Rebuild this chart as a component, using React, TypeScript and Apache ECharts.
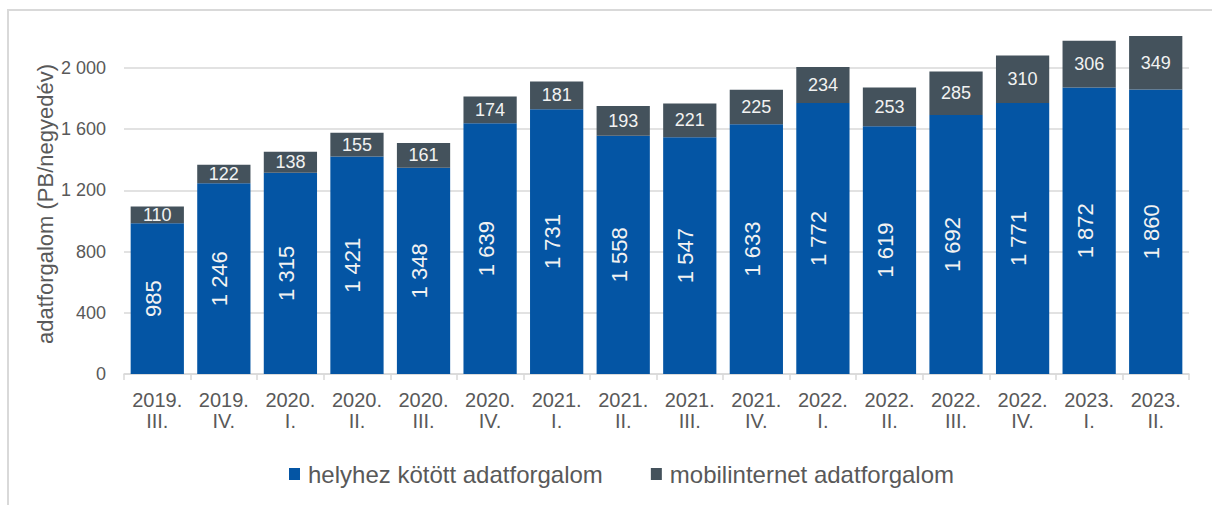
import React, { useEffect, useRef } from "react";
import * as echarts from "echarts";

const categories = [
  "2019.\nIII.", "2019.\nIV.", "2020.\nI.", "2020.\nII.", "2020.\nIII.", "2020.\nIV.",
  "2021.\nI.", "2021.\nII.", "2021.\nIII.", "2021.\nIV.", "2022.\nI.", "2022.\nII.",
  "2022.\nIII.", "2022.\nIV.", "2023.\nI.", "2023.\nII.",
];
const fixedTraffic = [985, 1246, 1315, 1421, 1348, 1639, 1731, 1558, 1547, 1633, 1772, 1619, 1692, 1771, 1872, 1860];
const mobileTraffic = [110, 122, 138, 155, 161, 174, 181, 193, 221, 225, 234, 253, 285, 310, 306, 349];
const seriesNames = ["helyhez kötött adatforgalom", "mobilinternet adatforgalom"];
const yAxisTitle = "adatforgalom (PB/negyedév)";

const fmt = (v: number) => {
  const s = String(Math.round(v));
  return s.replace(/\B(?=(\d{3})+(?!\d))/g, " ");
};

const FONT = "Arial, 'Liberation Sans', sans-serif";

export default function App() {
  const ref = useRef<HTMLDivElement>(null);
  useEffect(() => {
    if (!ref.current) return;
    const chart = echarts.init(ref.current, undefined, { renderer: "svg" });
    chart.setOption({
      animation: false,
      backgroundColor: "#ffffff",
      textStyle: { fontFamily: FONT },
      graphic: [
        {
          type: "rect",
          shape: { x: 8, y: 10, width: 1400, height: 700 },
          style: { fill: "none", stroke: "#d9d9d9", lineWidth: 2 },
          silent: true,
          z: -10,
        },
        {
          type: "text",
          x: 45,
          y: 204,
          rotation: Math.PI / 2,
          silent: true,
          style: {
            text: yAxisTitle,
            fill: "#595959",
            font: `22px ${FONT}`,
            align: "center",
            verticalAlign: "middle",
          },
        },
      ],
      legend: {
        data: seriesNames,
        top: 456,
        left: 284,
        itemWidth: 11,
        itemHeight: 12,
        itemGap: 48,
        icon: "rect",
        textStyle: { fontFamily: FONT, fontSize: 24, lineHeight: 26, color: "#595959", padding: [0, 0, 0, 3] },
      },
      grid: { left: 124, right: 23, top: 6.8, bottom: 131, containLabel: false },
      xAxis: {
        type: "category",
        data: categories,
        axisLine: { lineStyle: { color: "#d9d9d9", width: 1.5 } },
        axisTick: { show: true, length: 6, lineStyle: { color: "#d9d9d9", width: 1.5 } },
        axisLabel: { color: "#595959", fontSize: 20, fontFamily: FONT, lineHeight: 21, margin: 15, interval: 0 },
      },
      yAxis: {
        type: "value",
        min: 0,
        max: 2400,
        interval: 400,
        axisLine: { show: false },
        axisTick: { show: false },
        axisLabel: {
          color: "#595959",
          fontSize: 18,
          fontFamily: FONT,
          margin: 18,
          showMaxLabel: false,
          formatter: (v: number) => fmt(v),
        },
        splitLine: { show: true, showMaxLine: false, lineStyle: { color: "#d9d9d9", width: 1.5 } },
      },
      series: [
        {
          name: seriesNames[0],
          type: "bar",
          stack: "total",
          data: fixedTraffic,
          barCategoryGap: "20%",
          itemStyle: { color: "#0455a4" },
          label: {
            show: true,
            position: "inside",
            rotate: 90,
            offset: [0, -4],
            color: "#f2f2f2",
            fontSize: 22,
            fontFamily: FONT,
            formatter: (p: any) => fmt(p.value),
          },
        },
        {
          name: seriesNames[1],
          type: "bar",
          stack: "total",
          data: mobileTraffic,
          barCategoryGap: "20%",
          itemStyle: { color: "#44525c" },
          label: {
            show: true,
            position: "inside",
            color: "#f2f2f2",
            fontSize: 18,
            fontFamily: FONT,
            formatter: (p: any) => fmt(p.value),
          },
        },
      ],
    });
    return () => chart.dispose();
  }, []);
  return (
    <div
      ref={ref}
      style={{ position: "fixed", left: 0, top: 0, width: 1212, height: 505 }}
    />
  );
}
